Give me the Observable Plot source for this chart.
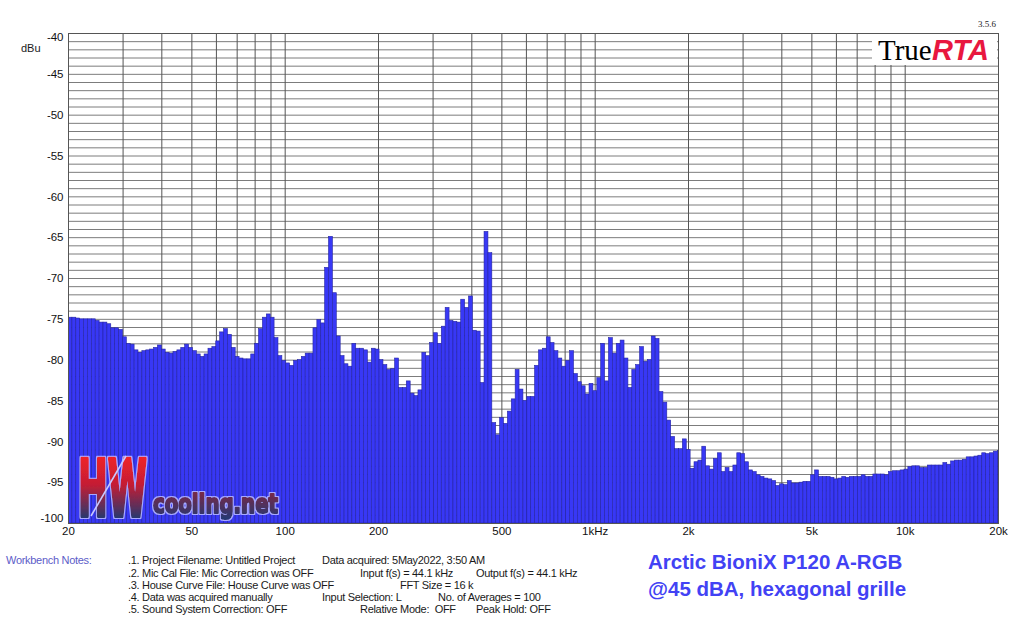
<!DOCTYPE html>
<html>
<head>
<meta charset="utf-8">
<script src="https://cdn.jsdelivr.net/npm/d3@7"></script>
<script src="https://cdn.jsdelivr.net/npm/@observablehq/plot@0.6"></script>
<style>
  html, body { margin: 0; padding: 0; background: #fff; }
  #wrap { position: relative; width: 1024px; height: 624px; overflow: hidden; background: #fff;
          font-family: "Liberation Sans", Arial, sans-serif; }
  #chart { position: absolute; left: 0; top: 0; }
  .t { position: absolute; white-space: pre; font-size: 11px; line-height: 12px; color: #1a1a1a; letter-spacing: -0.3px; }
  .notes { color: #5c5cc8; }
  .big { position: absolute; white-space: pre; font-weight: bold; font-size: 20.5px; line-height: 24px; color: #4242f4; }
  #overlay { position: absolute; left: 0; top: 0; pointer-events: none; }
</style>
</head>
<body>
<div id="wrap">
  <div id="chart"></div>
  <svg id="overlay" width="1024" height="624"></svg>
  <div class="t" style="left:21px; top:42px; letter-spacing:0;">dBu</div>
  <div class="t notes" style="left:6px; top:554px;">Workbench Notes:</div>
  <div id="notes"></div>
  <div class="big" style="left:648px; top:550px;">Arctic BioniX P120 A-RGB</div>
  <div class="big" style="left:648px; top:577px;">@45 dBA, hexagonal grille</div>
</div>
<script>
// ---------- data ----------
const bandsPerOctave = 24;
const startFreq = 20;
// measured level of each 1/24-octave band, 20 Hz .. 20 kHz (dBu)
const levels = [
-74.8,-74.8,-74.9,-75.0,-75.0,-75.0,-75.0,-75.2,-75.4,-75.4,
-75.6,-76.1,-76.1,-76.3,-77.2,-78.0,-78.1,-78.8,-79.1,-78.9,
-78.8,-78.7,-78.5,-78.2,-78.7,-79.1,-79.2,-79.0,-78.8,-78.5,
-78.1,-78.5,-78.9,-79.3,-79.6,-79.3,-78.6,-78.4,-77.7,-76.6,
-76.2,-76.9,-78.5,-79.6,-79.8,-79.9,-79.9,-79.3,-78.0,-76.2,
-74.8,-74.4,-74.8,-77.3,-79.5,-80.1,-80.4,-80.7,-80.1,-80.0,
-79.6,-79.2,-79.2,-76.1,-75.1,-75.5,-68.7,-64.9,-71.8,-77.1,
-79.5,-80.5,-80.8,-78.0,-78.6,-78.6,-78.8,-80.3,-78.6,-78.7,
-80.0,-80.6,-81.2,-81.1,-79.8,-83.4,-83.4,-82.6,-84.1,-84.4,
-83.7,-79.1,-79.5,-77.9,-76.7,-78.0,-75.9,-73.6,-75.2,-75.3,
-75.4,-72.6,-73.6,-72.2,-76.4,-76.5,-82.8,-64.3,-66.9,-87.7,
-89.2,-87.1,-87.8,-86.3,-84.8,-81.2,-83.6,-85.0,-84.5,-84.5,
-80.7,-78.8,-78.6,-77.2,-77.9,-78.9,-79.8,-80.8,-80.1,-78.9,
-81.7,-82.7,-83.2,-84.2,-82.9,-83.8,-82.2,-78.0,-82.6,-77.3,
-79.2,-78.0,-77.6,-79.8,-83.4,-81.2,-80.6,-78.4,-80.2,-80.0,
-77.1,-77.4,-83.9,-85.2,-87.4,-89.4,-90.9,-90.9,-89.7,-91.0,
-93.3,-92.5,-92.3,-90.6,-93.0,-93.4,-92.1,-91.4,-93.7,-93.2,
-93.7,-92.9,-91.4,-91.5,-92.5,-93.5,-93.7,-94.1,-94.3,-94.5,
-94.6,-94.8,-95.4,-95.2,-95.3,-94.8,-95.1,-95.1,-95.0,-94.9,
-94.9,-94.1,-93.5,-94.3,-94.3,-94.3,-94.4,-94.6,-94.5,-94.3,
-94.4,-94.3,-94.3,-94.3,-94.1,-94.3,-94.3,-94.0,-94.0,-94.0,
-94.1,-93.7,-93.6,-93.6,-93.5,-93.4,-93.1,-93.0,-93.0,-93.2,
-93.2,-92.9,-92.9,-92.9,-92.9,-92.6,-92.8,-92.4,-92.3,-92.3,
-92.2,-91.9,-91.9,-91.8,-91.7,-91.4,-91.5,-91.4,-91.2,-91.1
];
const gridFreqs = [20,30,40,50,60,70,80,90,100,200,300,400,500,600,700,800,900,
                   1000,2000,3000,4000,5000,6000,7000,8000,9000,10000,20000];
const xTickValues = [20,50,100,200,500,1000,2000,5000,10000,20000];
const xTickLabels = ["20","50","100","200","500","1kHz","2k","5k","10k","20k"];
const yTickValues = [-40,-45,-50,-55,-60,-65,-70,-75,-80,-85,-90,-95,-100];
const dbGridLines = d3.range(-99, -40, 1);
const notesCol1 = [".1. Project Filename: Untitled Project",".2. Mic Cal File: Mic Correction was OFF",
  ".3. House Curve File: House Curve was OFF",".4. Data was acquired manually",".5. Sound System Correction: OFF"];
const notesOther = [
  [0, 322, "Data acquired: 5May2022, 3:50 AM"],
  [1, 360, "Input f(s) = 44.1 kHz"], [1, 476, "Output f(s) = 44.1 kHz"],
  [2, 400, "FFT Size = 16 k"],
  [3, 322, "Input Selection: L"], [3, 438, "No. of Averages = 100"],
  [4, 360, "Relative Mode:  OFF"], [4, 476, "Peak Hold: OFF"]
];

// tables built from the arrays above
const bars = levels.map((v, i) => ({
  f0: startFreq * Math.pow(2, i / bandsPerOctave),
  f1: startFreq * Math.pow(2, (i + 1) / bandsPerOctave),
  v
}));
const xTicks = xTickValues.map((f, i) => ({f, label: xTickLabels[i]}));

const chart = Plot.plot({
  width: 1024,
  height: 545,
  marginLeft: 68,
  marginRight: 26,
  marginTop: 33,
  marginBottom: 22,
  x: {type: "log", domain: [20, 20000], axis: null},
  y: {domain: [-100, -40], axis: null},
  style: {fontFamily: "Liberation Sans, Arial, sans-serif", fontSize: "11px", background: "white", color: "#111"},
  marks: [
    Plot.ruleY(dbGridLines, {stroke: "#7c7c7c", strokeWidth: 1}),
    Plot.ruleX(gridFreqs, {stroke: "#555", strokeWidth: 1}),
    Plot.rect(bars, {x1: "f0", x2: "f1", y1: -100, y2: "v", fill: "#3838f5", stroke: "#2424a4", strokeWidth: 0.6, clip: true}),
    Plot.frame({stroke: "#555"}),
    Plot.text(yTickValues, {x: 20, y: d => d, dx: -5, textAnchor: "end", text: d => String(d), fontSize: 11.5, fill: "#111"}),
    Plot.text(xTicks, {x: "f", text: "label", frameAnchor: "bottom", dy: 11, fontSize: 11.5, fill: "#111"})
  ]
});
document.getElementById("chart").appendChild(chart);

// nudge first/last y labels as in TrueRTA output
d3.select(chart).selectAll("text").each(function() {
  const t = this.textContent;
  if (t === "-40") this.setAttribute("dy", "4");
  if (t === "-100") this.setAttribute("dy", "-5");
});

// notes block
const notesDiv = document.getElementById("notes");
const rowTop = [554, 567, 579, 591, 603];
notesCol1.forEach((s, i) => {
  const d = document.createElement("div");
  d.className = "t"; d.style.left = "128px"; d.style.top = rowTop[i] + "px"; d.textContent = s;
  notesDiv.appendChild(d);
});
notesOther.forEach(([r, x, s]) => {
  const d = document.createElement("div");
  d.className = "t"; d.style.left = x + "px"; d.style.top = rowTop[r] + "px"; d.textContent = s;
  notesDiv.appendChild(d);
});

// logos / badges overlay
const ov = d3.select("#overlay");
const defs = ov.append("defs");
const g1 = defs.append("linearGradient").attr("id", "hwg").attr("gradientUnits", "userSpaceOnUse")
  .attr("x1", 0).attr("y1", 456).attr("x2", 0).attr("y2", 520);
g1.append("stop").attr("offset", 0).attr("stop-color", "#f02228");
g1.append("stop").attr("offset", 0.45).attr("stop-color", "#c41e34");
g1.append("stop").attr("offset", 1).attr("stop-color", "#1e3a72");
const g2 = defs.append("linearGradient").attr("id", "cng").attr("gradientUnits", "userSpaceOnUse")
  .attr("x1", 0).attr("y1", 494).attr("x2", 0).attr("y2", 518);
g2.append("stop").attr("offset", 0).attr("stop-color", "#74294a");
g2.append("stop").attr("offset", 1).attr("stop-color", "#283872");
const flt = defs.append("filter").attr("id", "halo").attr("x", "-10%").attr("y", "-10%").attr("width", "120%").attr("height", "120%");
flt.append("feMorphology").attr("in", "SourceAlpha").attr("operator", "dilate").attr("radius", 1.2).attr("result", "thick");
flt.append("feFlood").attr("flood-color", "#a8a8ff").attr("result", "col");
flt.append("feComposite").attr("in", "col").attr("in2", "thick").attr("operator", "in").attr("result", "outline");
const fm = flt.append("feMerge");
fm.append("feMergeNode").attr("in", "outline");
fm.append("feMergeNode").attr("in", "SourceGraphic");

function logoText(x, y, size, len, fill, s, w) {
  ov.append("text").attr("x", x).attr("y", y)
    .attr("font-family", "DejaVu Sans, sans-serif").attr("font-weight", "bold")
    .attr("font-size", size).attr("textLength", len).attr("lengthAdjust", "spacingAndGlyphs")
    .attr("fill", fill).attr("stroke", fill).attr("stroke-width", w)
    .attr("stroke-linejoin", "round").attr("filter", "url(#halo)").text(s);
}
logoText(78, 516, 78, 69, "url(#hwg)", "HW", 4);
ov.append("line").attr("x1", 91).attr("y1", 516).attr("x2", 126).attr("y2", 456)
  .attr("stroke", "#c8c8ff").attr("stroke-width", 1.6);
logoText(153, 513, 26, 125, "url(#cng)", "cooling.net", 2.2);

ov.append("rect").attr("x", 872).attr("y", 34).attr("width", 125).attr("height", 31).attr("fill", "#fff");
ov.append("text").attr("x", 878).attr("y", 60)
  .attr("font-family", "Liberation Serif, Times New Roman, serif").attr("font-size", 29)
  .attr("fill", "#000").text("True");
ov.append("text").attr("x", 932).attr("y", 60)
  .attr("font-family", "Liberation Sans, Arial, sans-serif").attr("font-weight", "bold").attr("font-style", "italic")
  .attr("font-size", 29).attr("fill", "#e8173f").text("RTA");
ov.append("text").attr("x", 996).attr("y", 27).attr("text-anchor", "end")
  .attr("font-family", "Liberation Serif, Times New Roman, serif").attr("font-size", 9)
  .attr("fill", "#222").text("3.5.6");
</script>
</body>
</html>
